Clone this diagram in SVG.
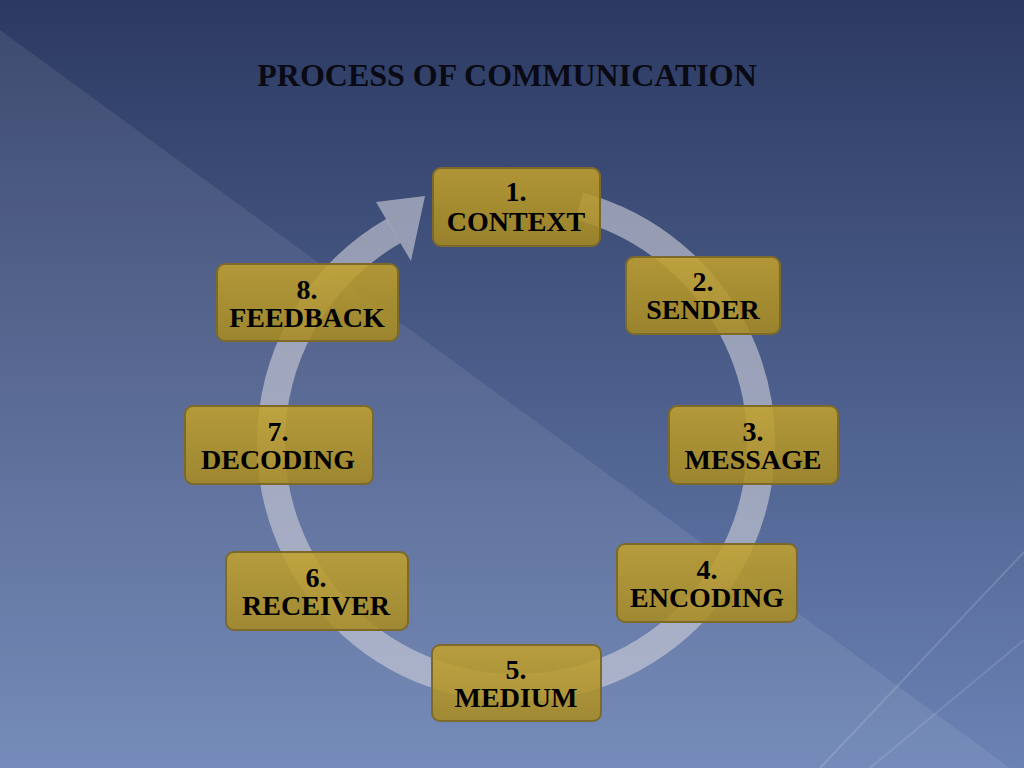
<svg xmlns="http://www.w3.org/2000/svg" width="1024" height="768" viewBox="0 0 1024 768">
<defs>
<linearGradient id="bg" x1="0" y1="0" x2="0" y2="1"><stop offset="0" stop-color="#2c3a62"/><stop offset="1" stop-color="#6b82b4"/></linearGradient>
<linearGradient id="box" x1="0" y1="0" x2="0" y2="1"><stop offset="0" stop-color="#c4a22a"/><stop offset="1" stop-color="#a88a1e"/></linearGradient>
</defs>
<style>
.b{fill:url(#box);fill-opacity:.85;stroke:#7d6a2a;stroke-width:2}
.t{font-family:"Liberation Serif",serif;font-weight:bold;font-size:28px;fill:#000;text-anchor:middle}
</style>
<rect width="1024" height="768" fill="url(#bg)"/>
<polygon points="0,30 1010,768 0,768" fill="#fff" fill-opacity="0.08"/>
<line x1="820" y1="768" x2="1024" y2="552" stroke="#fff" stroke-opacity="0.15" stroke-width="2"/>
<line x1="870" y1="768" x2="1024" y2="640" stroke="#fff" stroke-opacity="0.12" stroke-width="2"/>
<text x="507" y="86" font-family="Liberation Serif,serif" font-weight="bold" font-size="32" fill="#0a0a14" text-anchor="middle">PROCESS OF COMMUNICATION</text>
<g id="connectors" fill="#d0d0d8" fill-opacity="0.6">
<path d="M579.4,206.3 A245,245 0 1 1 393.5,230.8" fill="none" stroke="#d0d0d8" stroke-opacity="0.6" stroke-width="28"/>
<polygon points="376,202 411,261 425,196"/>
</g>
<g id="n1"><rect class="b" x="433" y="168" width="167" height="78" rx="8"/><text class="t" x="516" y="201">1.</text><text class="t" x="516" y="231">CONTEXT</text></g>
<g id="n2"><rect class="b" x="626" y="257" width="154" height="77" rx="8"/><text class="t" x="703" y="291">2.</text><text class="t" x="703" y="319">SENDER</text></g>
<g id="n3"><rect class="b" x="669" y="406" width="169" height="78" rx="8"/><text class="t" x="753" y="441">3.</text><text class="t" x="753" y="469">MESSAGE</text></g>
<g id="n4"><rect class="b" x="617" y="544" width="180" height="78" rx="8"/><text class="t" x="707" y="579">4.</text><text class="t" x="707" y="607">ENCODING</text></g>
<g id="n5"><rect class="b" x="432" y="645" width="169" height="76" rx="8"/><text class="t" x="516" y="679">5.</text><text class="t" x="516" y="707">MEDIUM</text></g>
<g id="n6"><rect class="b" x="226" y="552" width="182" height="78" rx="8"/><text class="t" x="316" y="587">6.</text><text class="t" x="316" y="615">RECEIVER</text></g>
<g id="n7"><rect class="b" x="185" y="406" width="188" height="78" rx="8"/><text class="t" x="278" y="441">7.</text><text class="t" x="278" y="469">DECODING</text></g>
<g id="n8"><rect class="b" x="217" y="264" width="181" height="77" rx="8"/><text class="t" x="307" y="299">8.</text><text class="t" x="307" y="327">FEEDBACK</text></g>
</svg>
